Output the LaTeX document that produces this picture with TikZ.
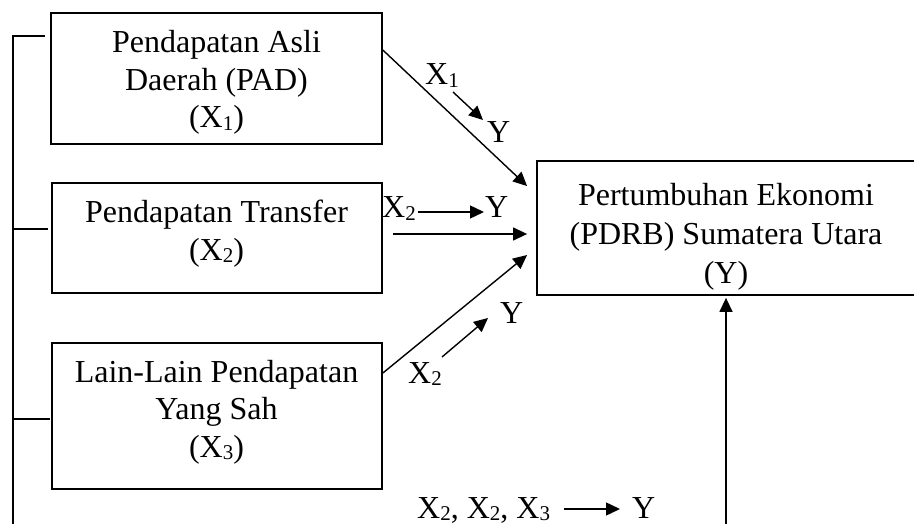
\documentclass[tikz,border=0pt]{standalone}
\usepackage{fontspec}
\setmainfont{Liberation Serif}
\usetikzlibrary{arrows.meta}
\newcommand\sbx[1]{\raisebox{-2.5pt}{\fontsize{21}{21}\selectfont #1}}
\tikzset{
  box/.style={draw, line width=1.8pt, inner sep=0pt},
  txt/.style={align=center, inner sep=0pt, font=\fontsize{32}{37.5}\selectfont},
  lbl/.style={inner sep=0pt, anchor=base west, font=\fontsize{32}{37.5}\selectfont},
  arr/.style={line width=1.4pt, -{Triangle[length=14pt,width=13pt]}},
  brk/.style={line width=1.8pt},
}
\begin{document}
\begin{tikzpicture}[x=1pt,y=-1pt]
\useasboundingbox (0,0) rectangle (914,524);
% boxes
\node[box, minimum width=331pt, minimum height=131pt] (b1) at (216.5,78.5) {};
\node[box, minimum width=330pt, minimum height=110pt] (b2) at (217,238) {};
\node[box, minimum width=330pt, minimum height=146pt] (b3) at (217,416) {};
\node[box, minimum width=400pt, minimum height=134pt] (yb) at (737,228) {};
% box texts
\node[txt] (t1) at (216.5,82.5) {Pendapatan Asli\\Daerah (PAD)\\(X\sbx{1})};
\node[txt] (t2) at (216.5,233.5) {Pendapatan Transfer\\(X\sbx{2})};
\node[txt] (t3) at (216.5,412) {Lain-Lain Pendapatan\\Yang Sah\\(X\sbx{3})};
\node[txt, font=\fontsize{32}{39}\selectfont] (ty) at (726,237) {Pertumbuhan Ekonomi\\(PDRB) Sumatera Utara\\(Y)};
% main arrows
\draw[arr] ([yshift=-38pt]b1.north east) -- ([xshift=-9pt,yshift=-26pt]yb.north west);
\draw[arr] ([xshift=10pt,yshift=4pt]b2.east) -- ([xshift=-9pt,yshift=-6pt]yb.west);
\draw[arr] ([yshift=43pt]b3.east) -- ([xshift=-9pt,yshift=-27pt]yb.west);
\coordinate (ub) at (726,530);
\draw[arr] (ub) -- ([yshift=-2pt]ub |- yb.south);
% left bracket
\coordinate (lt) at (13,36);
\coordinate (lb) at (13,530);
\coordinate (k1) at (45,36);
\coordinate (k2) at (48,229);
\coordinate (k3) at (50,419);
\draw[brk] (lb) -- (lt) -- (k1);
\draw[brk] (k2) -- (lt |- k2);
\draw[brk] (k3) -- (lt |- k3);
% labels
\node[lbl] (x1a) at (425,85) {X\sbx{1}};
\node[lbl] (y1a) at (487,143) {Y};
\coordinate (s1a) at (453,92);
\coordinate (s1b) at (483,120);
\draw[arr] (s1a) -- (s1b);
\node[lbl] (x2a) at (382,218) {X\sbx{2}};
\node[lbl] (y2a) at (485,218) {Y};
\draw[arr] ([xshift=2pt,yshift=6pt]x2a.base east) -- ([xshift=-1pt,yshift=6pt]y2a.base west);
\node[lbl] (y3a) at (500,323) {Y};
\node[lbl] (x3a) at (408,383) {X\sbx{2}};
\coordinate (s3a) at (442,357);
\coordinate (s3b) at (488,318);
\draw[arr] (s3a) -- (s3b);
\node[lbl] (x4a) at (417,518) {X\sbx{2}, X\sbx{2}, X\sbx{3}};
\node[lbl] (y4a) at (632,518) {Y};
\draw[arr] ([xshift=14pt,yshift=9pt]x4a.base east) -- ([xshift=-12pt,yshift=9pt]y4a.base west);
\end{tikzpicture}
\end{document}
